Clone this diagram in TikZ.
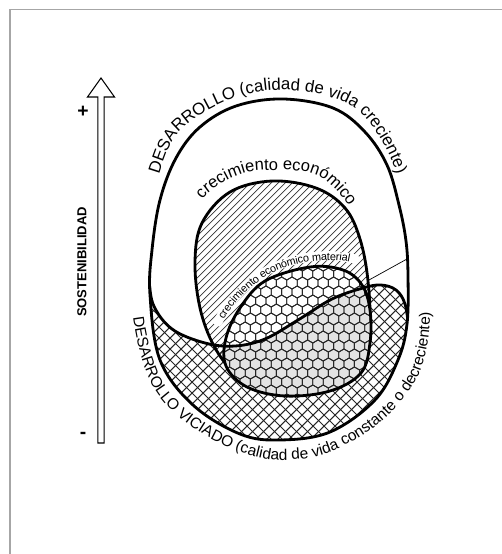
\documentclass[tikz,border=0pt]{standalone}
\usepackage{fontspec}
\setmainfont{Liberation Sans}
\usepackage{tikz}
\usetikzlibrary{calc,decorations.text}
\definecolor{framegray}{HTML}{A6A6A6}
\definecolor{hexfill}{HTML}{E3E3E3}
\tikzset{
  outline/.style  ={line width=1.6pt, draw=black, line join=round},
  xline/.style    ={line width=0.6pt, draw=black!85},
  hatchline/.style={line width=0.4pt, draw=black!80},
  hexline/.style  ={line width=0.5pt, draw=black!85},
  leader/.style   ={line width=0.4pt, draw=black},
  band/.style     ={draw=white, line width=5.2pt, line cap=round},
  axisarrow/.style={line width=0.6pt, draw=black, fill=white},
  sign/.style     ={font=\bfseries\fontsize{11}{12}\selectfont, inner sep=0pt},
  axislbl/.style  ={font=\bfseries\fontsize{7.4}{9}\selectfont, inner sep=0pt}
}

\begin{document}
\begin{tikzpicture}[x=0.02cm, y=-0.02cm]
\useasboundingbox (0,0) rectangle (502,554);
\clip (0,0) rectangle (502,554);
\draw[framegray, line width=0.7pt] (10,600) -- (10,9.5) -- (560,9.5);

% outlines of the regions
\path[save path=\eggP] plot[smooth cycle, tension=0.6] coordinates {(283,99) (333,108) (365,132) (387,165) (399,205) (406,241) (408,276) (407,324) (398,360) (375,400) (330,432) (280,440) (240,434) (193,405) (160,360) (150,295) (152,250) (160,200) (176,158) (200,127) (236,106)};
\path[save path=\sP] plot[smooth, tension=0.6] coordinates {(149,274) (153,304) (172,329) (205,343) (235,346) (265,339) (298,320) (332,299) (363,288) (381,285) (396,290) (405,304) (409,330)};
\path[save path=\lowP] plot[smooth, tension=0.6] coordinates {(149,274) (153,304) (172,329) (205,343) (235,346) (265,339) (298,320) (332,299) (363,288) (381,285) (396,290) (405,304) (409,330)} -- (440,520) -- (120,520) -- cycle;
\path[save path=\ecoP] plot[smooth cycle, tension=0.6] coordinates {(272,181) (316,188) (345,208) (360,239) (368,281) (369,327) (356,369) (320,387) (270,385) (235,372) (214,346) (200,308) (195,262) (202,223) (230,192)};
\path[save path=\matP] plot[smooth cycle, tension=0.6] coordinates {(310,267) (343,270) (362,285) (370,310) (370,343) (361,373) (330,391) (285,396) (247,387) (226,366) (226,338) (240,308) (265,281)};

% desarrollo viciado
\begin{scope}
  \clip[use path=\eggP];
  \clip[use path=\lowP];
  \foreach \c in {420,431,...,860} \draw[xline] (140,\c-140) -- (420,\c-420);
  \foreach \c in {-300,-289,...,150} \draw[xline] (140,140-\c) -- (420,420-\c);
\end{scope}

% crecimiento economico
\begin{scope}
  \clip[use path=\ecoP];
  \foreach \c in {370,377,...,760} \draw[hatchline] (180,\c-180) -- (390,\c-390);
\end{scope}
\path[band] (218,322) .. controls (226,304) and (243,288) .. (257,277)
  .. controls (272,266) and (291,260) .. (310,257) .. controls (324,255) and (340,255) .. (355,259);
\path[decorate, decoration={text along path, raise=-2.5pt, text align=center,
  text={|\fontsize{6.2}{7}\selectfont|crecimiento económico material}}]
  (218,322) .. controls (226,304) and (243,288) .. (257,277)
  .. controls (272,266) and (291,260) .. (310,257) .. controls (324,255) and (340,255) .. (355,259);
\draw[outline, use path=\ecoP];

% crecimiento economico material
\fill[white, use path=\matP];
\begin{scope}
  \clip[use path=\matP];
  \fill[hexfill, use path=\lowP];
  \foreach \j in {0,...,16}{
    \foreach \i in {0,...,16}{
      \pgfmathsetmacro{\hx}{214+10.4*\i+5.2*mod(\j,2)}
      \pgfmathsetmacro{\hy}{256+9*\j}
      \draw[hexline] (\hx,\hy) +(30:6) -- +(90:6) -- +(150:6)
        -- +(210:6) -- +(270:6) -- +(330:6) -- cycle;
    }
  }
\end{scope}
\draw[outline, use path=\matP];

\begin{scope}
  \clip[use path=\eggP];
  \draw[outline, use path=\sP];
\end{scope}
\draw[outline, use path=\eggP];

\coordinate (ldA) at (369,280);
\coordinate (ldB) at (407,259);
\draw[leader] (ldA) -- (ldB);

% texts along the curves
\path[decorate, decoration={text along path, text align=center,
  text={|\fontsize{9.6}{11}\selectfont|DESARROLLO (calidad de vida creciente)}}]
  (156,184) .. controls (162,166) and (167,144) .. (180,131)
  .. controls (205,106) and (244,90) .. (280,90)
  .. controls (311,90) and (350,97) .. (369,122)
  .. controls (383,140) and (394,162) .. (400,184);
\path[decorate, decoration={text along path, text align=center,
  text={|\fontsize{9.4}{11}\selectfont|crecimiento económico}}]
  (197,207) .. controls (201,202) and (205,197) .. (209,192)
  .. controls (213,189) and (217,186) .. (221,184)
  .. controls (227,180) and (232,177) .. (245,173)
  .. controls (252,171) and (260,170) .. (275,170)
  .. controls (290,170) and (307,170) .. (320,177)
  .. controls (333,184) and (342,196) .. (354,214);
\path[decorate, decoration={text along path, text align=center,
  text={|\fontsize{8.8}{11}\selectfont|DESARROLLO VICIADO (calidad de vida constante o decreciente)}}]
  (132,305) .. controls (134,330) and (140,358) .. (150,381)
  .. controls (164,411) and (198,434) .. (230,448)
  .. controls (245,454) and (263,460) .. (280,460)
  .. controls (299,460) and (318,458) .. (335,450)
  .. controls (369,435) and (400,410) .. (417,378)
  .. controls (428,355) and (431,326) .. (430,300);

% axis
\coordinate (axtail) at (101,443);
\coordinate (axtip) at (101,78);
\draw[axisarrow] ($(axtail)+(-3.2,0)$) -- ($(axtip)+(-3.2,19)$) -- ($(axtip)+(-13.5,19)$)
  -- (axtip) -- ($(axtip)+(13.5,19)$) -- ($(axtip)+(3.2,19)$) -- ($(axtail)+(3.2,0)$) -- cycle;
\node[sign] (plus) at (83,112) {+};
\node[sign] (minus) at (83,435) {-};
\node[axislbl, rotate=90] (sost) at (82,262) {SOSTENIBILIDAD};
\end{tikzpicture}
\end{document}
